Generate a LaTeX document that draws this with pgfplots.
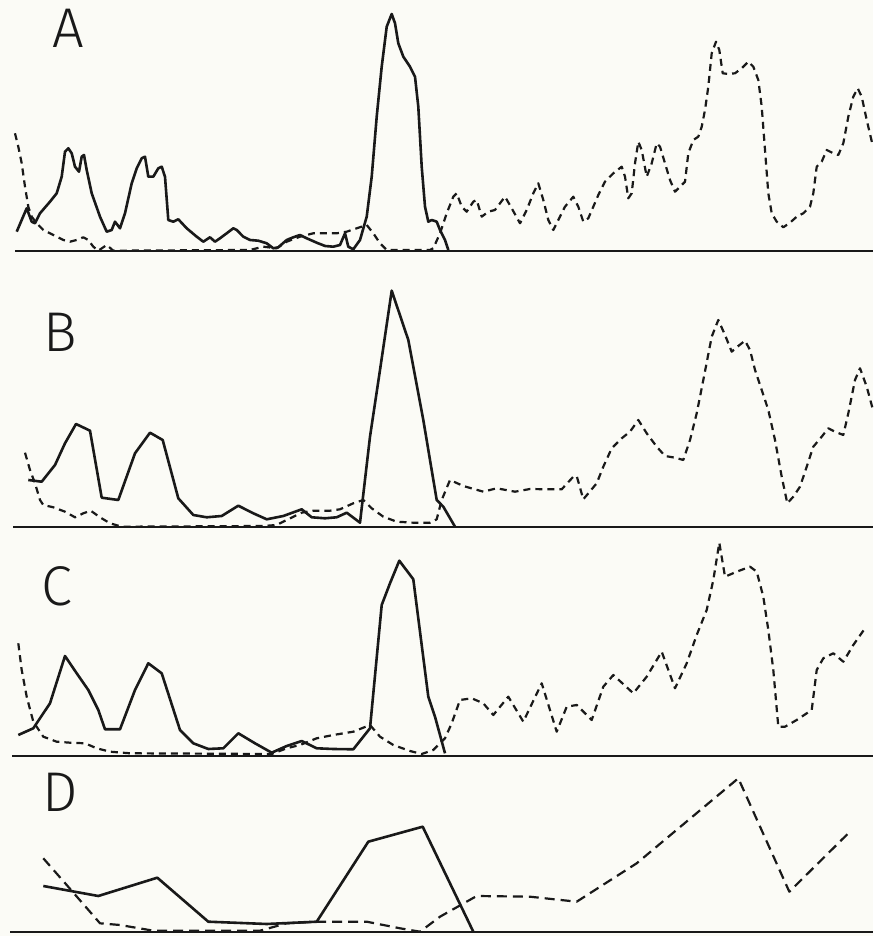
\documentclass[border=0pt]{standalone}
\usepackage{pgfplots}
\pgfplotsset{compat=1.18}
\usepackage{fontspec}
\newfontfamily\labelfont{Fira Sans Light}
\definecolor{bgcol}{RGB}{251,251,246}
\definecolor{ink}{RGB}{25,25,25}
\tikzset{lab/.style={font=\labelfont\fontsize{28}{30}\selectfont, text=ink, inner sep=0pt}}
\pgfplotsset{
  panel/.style={hide axis, clip=false, x=0.5pt, y=0.5pt, xmin=0, xmax=873, ymin=0, anchor=south west},
  sol/.style={ink, line width=1.3pt, line join=round, mark=none},
  das/.style={ink, line width=1.1pt, line join=round, dash pattern=on 3.5pt off 2.5pt, mark=none},
  base/.style={ink, line width=1.4pt, mark=none}
}
\begin{document}
\begin{tikzpicture}
\useasboundingbox (0,0) rectangle (436.5pt,468pt);
\fill[bgcol] (0,0) rectangle (436.5pt,468pt);
% ---------- A ----------
\begin{axis}[panel, ymax=251, at={(0pt,342.5pt)}]
\addplot[base] coordinates {(15,0) (873,0)};
\addplot[sol] coordinates {
(16.7,19.3)(26.7,42.7)(31.7,29.3)(35,27.7)(40,37.7)(50,49.3)(56.7,57.7)(61.7,74.3)(65,99.3)(68.3,102.7)
(71.7,97.7)(75,84.3)(79,79.3)(81.7,94.3)(84,96)(86.7,81)(91.7,57.7)(100,34.3)(106.7,19.3)(111.7,21)
(115,29.3)(120,22.7)(125,37.7)(131.7,67.7)(136.7,82.7)(141.7,92.7)(145,94.3)(148.3,74.3)(153.3,74.3)(158.3,82.7)
(161.7,84.3)(165,74.3)(168.3,31)(173.3,29.3)(178.3,31.7)(186.7,22.7)(196.7,14.3)(203.3,9.3)(210,13.7)(215,9.3)
(220,12.7)(226.7,17.7)(233.3,22.7)(236.7,21)(243.3,14.3)(250,11)(258.3,10.3)(266.7,7.7)(273.3,2.7)(278.3,3.7)
(286.7,11)(293.3,13.7)(300,16)(306.7,12.7)(316.7,8.3)(325,5)(333.3,4.3)(340,6)(345,17.7)(348.3,4.3)
(353.3,1.7)(360,11)(366.7,34.3)(371.7,74.3)(376.7,134.3)(381.7,184.3)(386.7,224.3)(391.7,237)(395,227.7)(398.3,207.7)
(403.3,194.3)(410,184.3)(415,174.3)(418.3,144.3)(421.7,84.3)(425,44.3)(428.3,29.3)(431.7,31)(436.7,29.3)(440,21)
(445,11)(448.3,1)};
\addplot[das] coordinates {
(15,117.7)(18.3,104.3)(21.7,87.7)(25,64.3)(28.3,44.3)(31.7,34.3)(36.7,27.7)(43.3,21)(50,17.7)(56.7,14.3)
(63.3,11)(70,9.3)(76.7,11)(83.3,13.7)(88.3,11)(93.3,4.3)(98.3,0.3)(106.7,6)(113.3,0.3)(250,1)
(263.3,4.3)(276.7,2.7)(286.7,9.3)(300,14.3)(313.3,17.7)(326.7,17.7)(336.7,17.7)(346.7,19.3)(356.7,22.7)(366.7,26)
(373.3,17.7)(380,7.7)(386.7,1)(430,1)(433.3,2.7)(440,17.7)(446.7,37.7)(453.3,54.3)(456.7,57.7)(461.7,44.3)
(466.7,39.3)(473.3,49.3)(476.7,51)(481.7,34.3)(488.3,39.3)(495,41)(500,47.7)(505,54.3)(511.7,42.7)(520,27.7)
(526.7,41)(533.3,57.7)(538.3,67.7)(543.3,51)(548.3,31)(553.3,21)(558.3,31)(565,44.3)(573.3,54.3)(578.3,44.3)
(583.3,29.3)(588.3,32.7)(593.3,44.3)(598.3,56)(605,69.3)(613.3,77.7)(621.7,84.3)(625,74.3)(628.3,52.7)(631.7,57.7)
(635,87.7)(638.3,109.3)(641.7,101)(646.7,74.3)(651.7,87.7)(656.7,107.7)(660,104.3)(665,87.7)(670,71)(675,59.3)
(680,64.3)(685,69.3)(688.3,97.7)(693.3,111)(698.3,114.3)(701.7,124.3)(705,141)(708.3,164.3)(711.7,197.7)(716,209.3)
(719.3,201)(722.7,177.7)(728.3,177)(735,177.7)(741.7,182.7)(748.3,189.3)(753.3,184.3)(758.3,171)(761.7,144.3)(765,101)
(768.3,57.7)(771.7,37.7)(776.7,29.3)(783.3,23.7)(790,28.3)(796.7,34.3)(803.3,37.7)(810,44.3)(813.3,57.7)(816.7,84.3)
(821.7,89.3)(826.7,101)(833.3,97.7)(838.3,96)(843.3,107.7)(848.3,134.3)(853.3,154.3)(857.7,162.7)(861.7,154.3)(866.7,131)
(873,104.3)};
\node[lab] at (axis cs:68,223) {A};
\end{axis}
% ---------- B ----------
\begin{axis}[panel, ymax=276, at={(0pt,204.5pt)}]
\addplot[base] coordinates {(13,0) (873,0)};
\addplot[sol] coordinates {
(28.3,47)(41.7,45.3)(55,62)(65,83.7)(76,103)(90,96.3)(101.7,29.3)(118.3,27)(135,73.7)(150,94.3)
(162.7,87)(178.3,28.7)(193.3,12)(206.7,9.7)(221.7,11)(238.3,21.3)(253.3,13.7)(266.7,7.7)(283.3,11)(301.7,17.7)
(311.7,9.7)(325,8.7)(336.7,9.7)(346.7,14.3)(360,4.3)(370,90.3)(380,157)(391.7,236.3)(408.3,187)(423.3,107)
(436.7,27)(443.3,20.3)(455,0.3)};
\addplot[das] coordinates {
(25,74.3)(30,57)(35,43.7)(40,27)(43.3,22)(53.3,19.7)(65,15.3)(75,9.7)(83.3,13.7)(90.7,16.3)
(100,9.7)(110,3.7)(121.7,0.3)(263.3,1)(276.7,2)(286.7,7)(301.7,14.3)(313.3,16.3)(330,16.3)(340,17.7)
(353.3,23.7)(363.3,27)(371.7,18.7)(383.3,10.3)(396.7,5.3)(413.3,4.3)(430,4.3)(436.7,7.7)(441.7,27)(450,47)
(463.3,41)(483.3,35.3)(496.7,38.7)(515,35.3)(530,38)(546.7,37.7)(561.7,37.7)(573.3,50.3)(576.7,51)(583.3,27.7)
(596.7,43.7)(603.3,60.3)(611.7,78.7)(621.7,88.7)(630,95.3)(638.3,107)(646.7,93.7)(656.7,80.3)(665,71)(675,69.3)
(683.3,67)(690,87)(696.7,113.7)(703.3,147)(711.7,190.3)(718.3,207)(725,192)(731.7,175.3)(738.3,181)(745,186.3)
(750,177)(755,157)(761.7,137)(768.3,117)(775,87)(781.7,50.3)(787.3,23.7)(793.3,30.3)(800,40.3)(806.7,60.3)
(813.3,80.3)(821.7,90.3)(828.3,98.7)(835,95.3)(843.3,92)(848.3,113.7)(855,147)(860,158.7)(866.7,140.3)(873,117)};
\node[lab] at (axis cs:60,195) {B};
\end{axis}
% ---------- C ----------
\begin{axis}[panel, ymax=229, at={(0pt,90pt)}]
\addplot[base] coordinates {(12,0) (873,0)};
\addplot[sol] coordinates {
(18.3,21)(33.3,27.7)(50,52.7)(65,100)(76.7,82.7)(88.3,66)(98.3,46)(105,26.7)(120,26.7)(135,66)
(148.3,92.7)(161.7,82.7)(180,26)(193.3,12.7)(208.3,7)(223.3,7.7)(238.3,22.7)(255,12.7)(271.7,3.3)(286.7,10)
(301.7,15)(316.7,7.7)(333.3,7)(353.3,6.7)(370,27.7)(381.7,151)(390,172.7)(399.3,195.3)(413.3,176.7)(428.3,59.3)
(435,39.3)(445,2.7)};
\addplot[das] coordinates {
(18.3,112.7)(21.7,86)(26.7,59.3)(33.3,34.3)(43.3,19.3)(56.7,14.3)(70,13.3)(85,12.7)(96.7,7.7)(110,4.3)
(130,2.7)(271.7,2)(286.7,7.7)(300,11)(316.7,17.7)(333.3,21)(353.3,24.3)(370,31)(380,19.3)(393.3,11)
(410,5)(421.7,2)(433.3,6)(445,17.7)(451.7,32.7)(460,56)(471.7,57.7)(483.3,52.7)(493.3,41)(508.3,59.3)
(523.3,34.3)(541.7,72.7)(556.7,24.3)(566.7,49.3)(576.7,51)(591.7,36)(603.3,69.3)(613.3,81)(633.3,62.7)(646.7,79.3)
(661.7,104.3)(675,67.7)(686.7,92.7)(696.7,121)(706.7,146)(713.3,176)(719.3,213.3)(725,179.3)(736.7,184.3)(750,189.3)
(756.7,184.3)(763.3,159.3)(768.3,126)(773.3,86)(778.3,29.3)(785,29.3)(796.7,36)(811.7,46)(816.7,86)(823.3,97.7)
(833.3,102.7)(843.3,94.3)(853.3,111)(865,127.7)};
\node[lab] at (axis cs:57,170) {C};
\end{axis}
% ---------- D ----------
\begin{axis}[panel, ymax=176, at={(0pt,2pt)}]
\addplot[base] coordinates {(10,0) (873,0)};
\addplot[sol] coordinates {
(43.3,46)(98.3,36)(157.3,54.3)(208.3,10.3)(266.7,8)(316.7,10.3)(368.3,90.3)(422.7,105.3)(473.3,0.3)};
\addplot[das, dash pattern=on 5pt off 3pt] coordinates {
(43.3,73.7)(66.7,47)(100,8.7)(120,7)(153.3,1.3)(260,1.3)(286.7,8.7)(316.7,10.3)(366.7,10.3)(400,3.7)
(420,0.3)(440,15.3)(476.7,36)(530,35.3)(576.7,30.3)(636.7,68.7)(738.3,153.7)(789.3,40.3)(848.3,98.7)};
\node[lab] at (axis cs:60,140) {D};
\end{axis}
\end{tikzpicture}
\end{document}
